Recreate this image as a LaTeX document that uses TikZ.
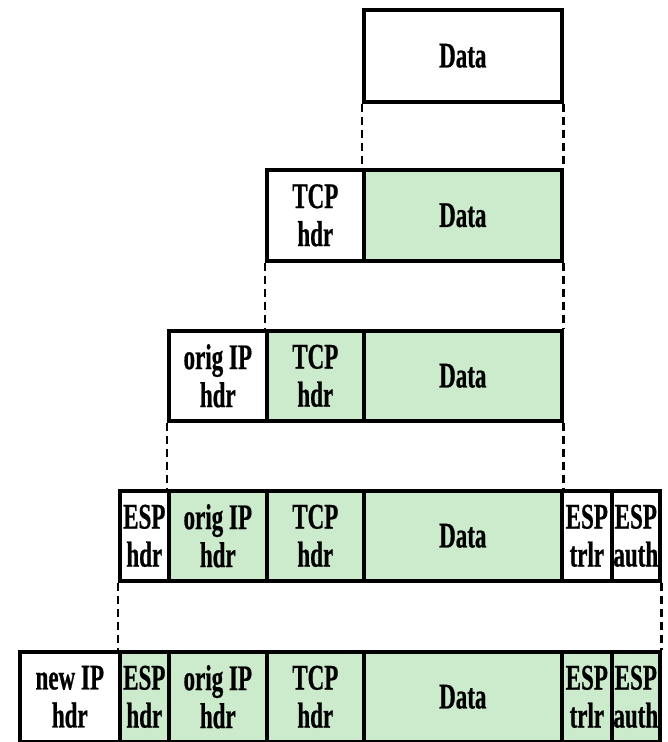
\documentclass[tikz,border=0pt]{standalone}
\usepackage{fontspec}
\setmainfont{Liberation Serif}[FakeStretch=0.64, BoldFeatures={FakeBold=0.6}]
\definecolor{pktgreen}{RGB}{204,234,204}
\tikzset{
	field/.style={draw=black, line width=3.6pt, anchor=north west, inner sep=0pt, align=center,
		minimum height=90pt, font=\fontsize{36}{38}\selectfont\bfseries},
	payload/.style={field, fill=pktgreen},
	guide/.style={draw=black, line width=2.6pt, dash pattern=on 8pt off 5pt}
}
\begin{document}
\begin{tikzpicture}[x=1pt,y=-1pt]
	\useasboundingbox (0,0) rectangle (667,742);
	% row 1: application data
	\node[field, minimum width=198pt, minimum height=92pt] (aData) at (362,8) {Data};
	% row 2: TCP segment
	\node[field, minimum width=97pt, minimum height=91pt] (bTcp) at (265,168) {TCP\\hdr};
	\node[payload, minimum width=198pt, minimum height=91pt] (bData) at (362,168) {Data};
	% row 3: IP packet
	\node[field, minimum width=98pt] (cIp) at (167,329) {orig IP\\hdr};
	\node[payload, minimum width=97pt] (cTcp) at (265,329) {TCP\\hdr};
	\node[payload, minimum width=198pt] (cData) at (362,329) {Data};
	% row 4: ESP payload
	\node[field, minimum width=49pt] (dEsp) at (118,489) {ESP\\hdr};
	\node[payload, minimum width=98pt] (dIp) at (167,489) {orig IP\\hdr};
	\node[payload, minimum width=97pt] (dTcp) at (265,489) {TCP\\hdr};
	\node[payload, minimum width=198pt] (dData) at (362,489) {Data};
	\node[field, minimum width=50pt] (dTrlr) at (560,489) {ESP\\trlr};
	\node[field, minimum width=48pt] (dAuth) at (610,489) {ESP\\auth};
	% row 5: tunnel packet
	\node[field, minimum width=100pt] (eIp) at (18,650) {new IP\\hdr};
	\node[payload, minimum width=49pt] (eEsp) at (118,650) {ESP\\hdr};
	\node[payload, minimum width=98pt] (eOrig) at (167,650) {orig IP\\hdr};
	\node[payload, minimum width=97pt] (eTcp) at (265,650) {TCP\\hdr};
	\node[payload, minimum width=198pt] (eData) at (362,650) {Data};
	\node[payload, minimum width=50pt] (eTrlr) at (560,650) {ESP\\trlr};
	\node[payload, minimum width=48pt] (eAuth) at (610,650) {ESP\\auth};
	% dashed guides
	\draw[guide] (aData.south west) -- (bData.north west);
	\draw[guide] (aData.south east) -- (bData.north east);
	\draw[guide] (bTcp.south west) -- (cTcp.north west);
	\draw[guide] (bData.south east) -- (cData.north east);
	\draw[guide] (cIp.south west) -- (dIp.north west);
	\draw[guide] (cData.south east) -- (dData.north east);
	\draw[guide] (dEsp.south west) -- (eEsp.north west);
	\draw[guide] (dAuth.south east) -- (eAuth.north east);
\end{tikzpicture}
\end{document}
